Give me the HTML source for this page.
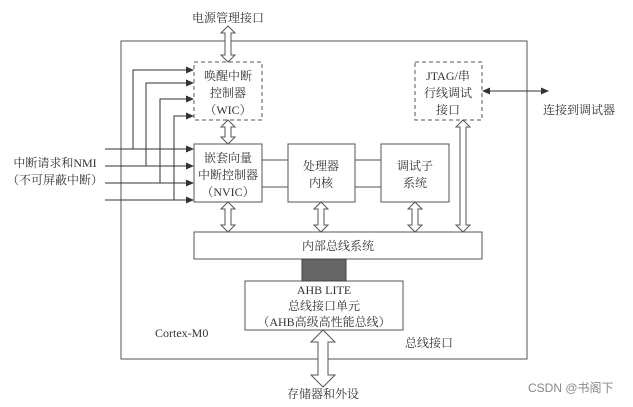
<!DOCTYPE html>
<html><head><meta charset="utf-8"><style>
html,body{margin:0;padding:0;background:#fff;}
svg{display:block;}
text{font-family:"Liberation Serif","Noto Serif CJK SC",serif;font-size:12px;fill:#333;}
</style></head><body>
<svg width="633" height="407" viewBox="0 0 633 407" xmlns="http://www.w3.org/2000/svg">
<defs><marker id="a" markerWidth="8" markerHeight="8" refX="7" refY="4" orient="auto" markerUnits="userSpaceOnUse"><path d="M0,0.5 L8,4 L0,7.5 z" fill="#333"/></marker></defs>
<g stroke="#555" stroke-width="1" fill="none">
<rect x="121" y="41" width="406" height="318"/>
<rect x="194" y="62" width="68" height="58" stroke-dasharray="4,3"/>
<rect x="415" y="62" width="67" height="58" stroke-dasharray="4,3"/>
<rect x="194" y="144" width="68" height="58" fill="#fff"/>
<rect x="288" y="144" width="67" height="58" fill="#fff"/>
<rect x="381" y="144" width="68" height="58" fill="#fff"/>
<rect x="194" y="232" width="288" height="27" fill="#fff"/>
<rect x="245" y="281" width="158" height="49" fill="#fff"/>
<line x1="262" y1="160" x2="288" y2="160"/><line x1="262" y1="187" x2="288" y2="187"/>
<line x1="355" y1="160" x2="381" y2="160"/><line x1="355" y1="187" x2="381" y2="187"/>
</g>
<rect x="302" y="259" width="44" height="22" fill="#666" stroke="#444"/>
<g stroke="#333" stroke-width="1" fill="none">
<line x1="105" y1="149" x2="193" y2="149" marker-end="url(#a)"/>
<line x1="105" y1="166" x2="193" y2="166" marker-end="url(#a)"/>
<line x1="105" y1="183" x2="193" y2="183" marker-end="url(#a)"/>
<line x1="105" y1="200" x2="193" y2="200" marker-end="url(#a)"/>
<polyline points="133,149 133,70 193,70" marker-end="url(#a)"/>
<polyline points="146,166 146,83 193,83" marker-end="url(#a)"/>
<polyline points="160,183 160,99 193,99" marker-end="url(#a)"/>
<polyline points="174,200 174,116 193,116" marker-end="url(#a)"/>
<line x1="490" y1="91" x2="548" y2="91" marker-end="url(#a)"/>
<line x1="540" y1="91" x2="483" y2="91" marker-end="url(#a)"/>
</g>
<g fill="#fff" stroke="#555" stroke-width="1">
<!-- vertical hollow double arrows -->
<polygon points="228,26 235,33 231,33 231,55 235,55 228,62 221,55 225,55 225,33 221,33"/>
<polygon points="228,120 235,127 231,127 231,137 235,137 228,144 221,137 225,137 225,127 221,127"/>
<polygon points="228,202 235,209 231,209 231,225 235,225 228,232 221,225 225,225 225,209 221,209"/>
<polygon points="321,202 328,209 324,209 324,225 328,225 321,232 314,225 318,225 318,209 314,209"/>
<polygon points="415,202 422,209 418,209 418,225 422,225 415,232 408,225 412,225 412,209 408,209"/>
<polygon points="463,120 470,127 466,127 466,225 470,225 463,232 456,225 460,225 460,127 456,127"/>
<polygon points="323,330 335,342 328,342 328,375 335,375 323,387 311,375 318,375 318,342 311,342"/>
</g>
<g text-anchor="middle">
<text x="228" y="22">电源管理接口</text>
<text x="228" y="80">唤醒中断</text><text x="228" y="97">控制器</text><text x="228" y="114">（WIC）</text>
<text x="448" y="80">JTAG/串</text><text x="448" y="97">行线调试</text><text x="448" y="114">接口</text>
<text x="228" y="162">嵌套向量</text><text x="228" y="179">中断控制器</text><text x="228" y="196">（NVIC）</text>
<text x="321" y="170">处理器</text><text x="321" y="187">内核</text>
<text x="415" y="170">调试子</text><text x="415" y="187">系统</text>
<text x="338" y="250">内部总线系统</text>
<text x="324" y="294">AHB LITE</text><text x="324" y="310">总线接口单元</text><text x="324" y="326">（AHB高级高性能总线）</text>
<text x="323" y="398">存储器和外设</text>
<text x="579" y="114">连接到调试器</text>
<text x="55" y="167">中断请求和NMI</text>
<text x="55" y="184">（不可屏蔽中断）</text>
</g>
<text x="155" y="337">Cortex-M0</text>
<text x="405" y="347">总线接口</text>
<text x="528" y="392" style="font-family:'Liberation Sans','Noto Sans CJK SC',sans-serif;font-size:12px;fill:#888">CSDN @书阁下</text>
</svg>
</body></html>
